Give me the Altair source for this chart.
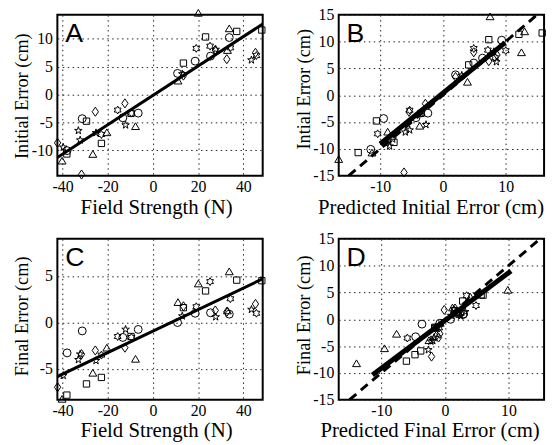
import altair as alt
import pandas as pd

subjects = ["circle", "square", "triangle", "diamond", "star", "hexagram"]

# field strength (N), initial error (cm), final error (cm), predicted initial, predicted final
circle_field = [-38.0, -31.3, -13.3, -6.5, 10.9, 18.7, 25.5, 33.8]
circle_init = [-10.1, -4.35, -4.2, -3.35, 3.8, 6.0, 6.9, 10.25]
circle_final = [-3.26, -0.9, -1.6, -0.74, 0.0, 1.0, 1.05, 0.9]
circle_pinit = [-11.5, -9.45, -4.3, -2.4, 2.0, 4.9, 6.3, 9.35]
circle_pfinal = [-4.6, -3.6, -1.5, -0.8, 0.9, 2.9, 2.0, 2.9]

square_field = [-38.1, -29.4, -22.8, -9.7, 13.5, 23.3, 37.1, 48.2]
square_init = [-10.7, -4.8, -8.8, -3.4, 5.65, 10.35, 11.35, 11.6]
square_final = [-7.8, -6.6, -5.9, -1.5, 1.6, 3.4, 4.56, 4.5]
square_pinit = [-13.5, -10.6, -7.8, -3.5, 4.1, 7.3, 12.1, 15.8]
square_pfinal = [-6.05, -4.7, -3.8, -1.6, 1.5, 2.8, 5.7, 6.0]

triangle_field = [-40.2, -26.6, -20.4, -7.7, 11.1, 20.1, 33.0, 33.8]
triangle_init = [-11.9, -10.7, -6.8, -5.7, 2.5, 14.7, 8.0, 11.9]
triangle_final = [-8.2, -5.4, -2.7, -3.9, 2.2, 4.2, 1.3, 5.5]
triangle_pinit = [-16.6, -11.3, -8.8, -3.7, 3.9, 7.5, 12.5, 13.0]
triangle_pfinal = [-13.9, -9.5, -7.6, -2.5, 1.2, 4.0, 2.0, 9.9]

diamond_field = [-42.2, -31.6, -25.5, -12.4, 13.5, 27.6, 32.7, 45.4]
diamond_init = [-8.7, -14.4, -3.1, -1.6, 3.4, 8.0, 6.35, 7.5]
diamond_final = [-6.95, -3.4, -3.0, -2.7, 1.75, 1.3, 1.15, 2.0]
diamond_pinit = [-8.8, -6.2, -5.4, -2.8, 2.0, 4.9, 7.3, 8.6]
diamond_pfinal = [-2.1, -1.0, -1.3, -0.8, -0.1, 2.6, 1.9, 1.6]

star_field = [-39.7, -33.0, -32.2, -25.2, -12.1, 13.0, 27.8, 43.6]
star_init = [-9.5, -6.5, -8.2, -6.9, -5.5, 3.7, 8.1, 6.2]
star_final = [-5.7, -4.0, -3.4, -4.1, -0.74, 0.7, 0.6, 1.4]
star_pinit = [-8.5, -5.3, -8.0, -6.0, -2.7, 3.0, 8.1, 8.5]
star_pfinal = [-2.6, -1.9, -1.7, -2.2, -0.5, 1.0, 2.5, 3.2]

hexagram_field = [-22.8, -15.6, -9.5, 19.2, 25.3, 34.3, 45.8]
hexagram_init = [-7.2, -2.8, -3.35, 8.3, 8.7, 8.4, 7.0]
hexagram_final = [-3.5, -1.5, -1.6, 1.7, 4.4, 2.56, 1.0]
hexagram_pinit = [-10.4, -5.3, -3.4, 10.0, 4.9, 7.15, 8.3]
hexagram_pfinal = [-5.9, -1.4, -0.9, 1.5, 3.4, 4.9, 2.2]

# regression / identity lines
fitA_x = [-42.3, 48.6]
fitA_y = [-11.32, 12.68]
fitB_x = [-10.0, 9.9]
fitB_y = [-9.1, 9.8]
fitC_x = [-42.3, 48.6]
fitC_y = [-5.81, 4.70]
fitD_x = [-11.4, 10.4]
fitD_y = [-10.4, 9.0]
diag_v = [-15.0, 15.0]

groups = [
    ("circle", circle_field, circle_init, circle_final, circle_pinit, circle_pfinal),
    ("square", square_field, square_init, square_final, square_pinit, square_pfinal),
    ("triangle", triangle_field, triangle_init, triangle_final, triangle_pinit, triangle_pfinal),
    ("diamond", diamond_field, diamond_init, diamond_final, diamond_pinit, diamond_pfinal),
    ("star", star_field, star_init, star_final, star_pinit, star_pfinal),
    ("hexagram", hexagram_field, hexagram_init, hexagram_final, hexagram_pinit, hexagram_pfinal),
]
rows = []
for name, f, i, fi, pi, pf in groups:
    for a, b, c, d, e in zip(f, i, fi, pi, pf):
        rows.append(dict(subject=name, field=a, init=b, final=c, pinit=d, pfinal=e))
df = pd.DataFrame(rows)

TRI = "M0,-0.85L1,0.85L-1,0.85Z"
SQ = "M-0.8,-0.8L0.8,-0.8L0.8,0.8L-0.8,0.8Z"
DIA = "M0,-1.15L0.8,0L0,1.15L-0.8,0Z"
STAR = ("M0,-1L0.224,-0.309L0.951,-0.309L0.363,0.118L0.588,0.809L0,0.382"
        "L-0.588,0.809L-0.363,0.118L-0.951,-0.309L-0.224,-0.309Z")
HEX = ("M0,-1L0.289,-0.5L0.866,-0.5L0.577,0L0.866,0.5L0.289,0.5L0,1"
       "L-0.289,0.5L-0.866,0.5L-0.577,0L-0.866,-0.5L-0.289,-0.5Z")
shape_scale = alt.Scale(domain=subjects, range=["circle", SQ, TRI, DIA, STAR, HEX])

SERIF = "Liberation Serif"
SANS = "Liberation Sans"
W, H = 208, 163


def panel(xcol, ycol, xdom, ydom, xticks, yticks, xtitle, ytitle,
          xtX, xtY, ytY, letter, fitx, fity, fitw, diag):
    xs = alt.Scale(domain=xdom, nice=False, zero=False)
    ys = alt.Scale(domain=ydom, nice=False, zero=False)
    common = dict(grid=True, gridDash=[1.5, 3.5], gridColor="#222222", gridWidth=1,
                  ticks=False, tickSize=0, domain=False,
                  labelFont=SERIF, labelFontSize=16, labelColor="black",
                  labelExpr="'' + datum.value",
                  titleFont=SERIF, titleFontWeight="normal", titleColor="black")
    xa = alt.Axis(values=xticks, title=xtitle, labelPadding=16, labelBaseline="alphabetic",
                  titleX=xtX, titleY=xtY,
                  titleFontSize=21, titleBaseline="alphabetic", titleAlign="center", **common)
    ya = alt.Axis(values=yticks, title=ytitle, labelPadding=5, titleX=-36, titleY=ytY,
                  titleFontSize=18.5, titleAngle=-90, titleBaseline="middle",
                  titleAlign="center", **common)
    X = alt.X(f"{xcol}:Q", scale=xs, axis=xa)
    Y = alt.Y(f"{ycol}:Q", scale=ys, axis=ya)
    pts = alt.Chart(df).mark_point(filled=False, color="black", strokeWidth=1,
                                   size=64, opacity=1).encode(
        x=X, y=Y, shape=alt.Shape("subject:N", scale=shape_scale, legend=None))
    fit_df = pd.DataFrame({xcol: fitx, ycol: fity})
    fit = alt.Chart(fit_df).mark_line(color="black", strokeWidth=fitw, clip=True).encode(x=X, y=Y)
    layers = [pts, fit]
    if diag:
        d_df = pd.DataFrame({xcol: diag_v, ycol: diag_v})
        layers.append(alt.Chart(d_df).mark_line(color="black", strokeWidth=3,
                                                strokeDash=[9, 6], clip=True).encode(x=X, y=Y))
    lab = alt.Chart(pd.DataFrame({"t": [letter]})).mark_text(
        align="left", baseline="alphabetic", font=SANS, fontSize=27, color="black").encode(
        x=alt.value(8), y=alt.value(28), text="t:N")
    layers.append(lab)
    return alt.layer(*layers).properties(width=W, height=H)


A = panel("field", "init", [-42.3, 48.6], [-14.6, 14.35], [-40, -20, 0, 20, 40],
          [-10, -5, 0, 5, 10], "Field Strength (N)", "Initial Error (cm)",
          100, 38, 82, "A", fitA_x, fitA_y, 3, False)
B = panel("pinit", "init", [-16.6, 16.1], [-15, 15], [-10, 0, 10],
          [-15, -10, -5, 0, 5, 10, 15], "Predicted Initial Error (cm)", "Intial Error (cm)",
          93, 38, 75, "B", fitB_x, fitB_y, 5, True)
C = panel("field", "final", [-42.3, 48.6], [-8.3, 9.0], [-40, -20, 0, 20, 40],
          [-5, 0, 5], "Field Strength (N)", "Final Error (cm)",
          100, 37, 78, "C", fitC_x, fitC_y, 3, False)
D = panel("pfinal", "final", [-16.7, 15.6], [-15, 15], [-10, 0, 10],
          [-15, -10, -5, 0, 5, 10, 15], "Predicted Final Error (cm)", "Final Error (cm)",
          92, 37, 77, "D", fitD_x, fitD_y, 5, True)

chart = alt.concat(A, B, C, D, columns=2,
                   spacing=alt.RowColnumber(row=64, column=77)).properties(
    bounds="flush", padding={"left": 4, "top": -5, "right": 0, "bottom": 0}
).configure_view(stroke="black", strokeWidth=2)

chart.save("out.html", embed_options={"renderer": "svg", "actions": False})
